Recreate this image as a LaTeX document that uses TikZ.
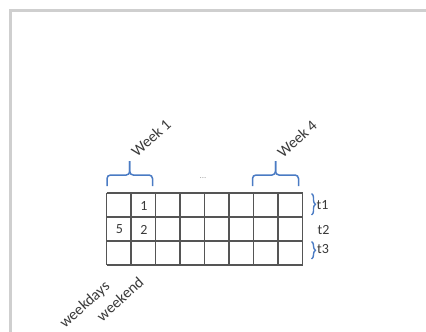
\documentclass[tikz,border=0pt]{standalone}
\usepackage{fontspec}
\setmainfont{Carlito}
\usetikzlibrary{decorations.pathreplacing}
\definecolor{gridc}{HTML}{555555}
\definecolor{bracec}{HTML}{4A7BC4}
\definecolor{txtc}{HTML}{3A3A3A}
\definecolor{framec}{HTML}{CFCFCF}
\begin{document}
\begin{tikzpicture}[x=1pt,y=-1pt,
  lbl/.style={text=txtc,font=\fontsize{14}{16}\selectfont,inner sep=0pt},
  rlbl/.style={text=txtc,font=\fontsize{15.5}{17}\selectfont,inner sep=0pt,rotate=42},
  cell/.style={text=txtc,font=\fontsize{14}{16}\selectfont,inner sep=0pt},
  gridline/.style={draw=gridc,line width=1.5pt},
  bracetop/.style={draw=bracec,line width=1.5pt,rounded corners=3.5pt},
  braceright/.style={draw=bracec,line width=1.4pt,decorate,decoration={brace,amplitude=4pt}}]
\useasboundingbox (0,0) rectangle (426,332);
\fill[white] (0,0) rectangle (426,332);
% frame
\draw[framec,line width=2.2pt] (426,10.5) -- (10.5,10.5) -- (10.5,332);
% grid
\foreach \x in {106.7,131.2,155.7,180.2,204.7,229.2,253.7,278.2,302.7} {\draw[gridline] (\x,193) -- (\x,265);}
\foreach \y in {193,217,241,265} {\draw[gridline] (106.7,\y) -- (302.7,\y);}
% cell texts
\node[cell] (c12) at (144,205.5) {1};
\node[cell] (c21) at (119.5,229.5) {5};
\node[cell] (c22) at (144,229.5) {2};
% top braces
\coordinate (b1a) at (107,186);
\coordinate (b1b) at (152.5,186);
\coordinate (b1m) at (129.7,161);
\coordinate (b4a) at (252.5,186);
\coordinate (b4b) at (298.5,186);
\coordinate (b4m) at (275.5,161);
\draw[bracetop] (b1a) -- (b1a |- 0,175) -- (b1m |- 0,175) -- (b1m);
\draw[bracetop] (b1b) -- (b1b |- 0,175) -- (b1m |- 0,175) -- (b1m);
\draw[bracetop] (b4a) -- (b4a |- 0,175) -- (b4m |- 0,175) -- (b4m);
\draw[bracetop] (b4b) -- (b4b |- 0,175) -- (b4m |- 0,175) -- (b4m);
\node[rlbl] (w1) at (151,138) {Week 1};
\node[rlbl] (w4) at (297,139) {Week 4};
\node[text=gray!70,font=\fontsize{9}{10}\selectfont,inner sep=0pt] (dots) at (203,178) {...};
% right braces
\coordinate (r1a) at (311.5,193.5);
\coordinate (r1b) at (311.5,215);
\coordinate (r3a) at (311.5,241.5);
\coordinate (r3b) at (311.5,259);
\draw[braceright] (r1a) -- (r1b);
\draw[braceright] (r3a) -- (r3b);
\node[lbl,anchor=west] (t1) at (316.5,205) {t1};
\node[lbl,anchor=west] (t2) at (317.5,230) {t2};
\node[lbl,anchor=west] (t3) at (317,249) {t3};
% bottom labels
\node[rlbl] (wd) at (85,305) {weekdays};
\node[rlbl] (we) at (120,299) {weekend};
\end{tikzpicture}
\end{document}
